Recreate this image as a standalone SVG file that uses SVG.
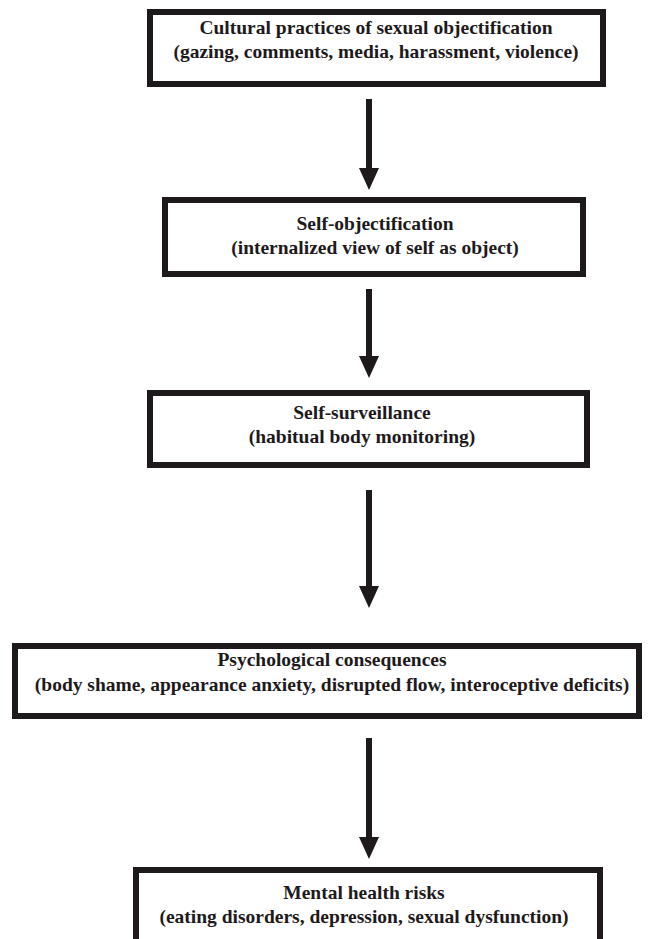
<svg xmlns="http://www.w3.org/2000/svg" width="650" height="939" viewBox="0 0 650 939">
<defs>
<style>
.box{fill:#fff;stroke:#1e1a1b;stroke-width:6}
.t{font-family:"Liberation Serif","Times New Roman",serif;font-weight:bold;font-size:19.5px;fill:#1e1a1b;text-anchor:middle}
.shaft{stroke:#1e1a1b;stroke-width:6}
</style>
<marker id="ah" markerUnits="userSpaceOnUse" markerWidth="22" markerHeight="20" refX="0" refY="10" orient="auto" viewBox="0 0 22 20">
<path d="M0,0 L22,10 L0,20 Z" fill="#1e1a1b"/>
</marker>
</defs>
<rect width="650" height="939" fill="#fff"/>
<g id="connectors">
<line class="shaft" x1="369" y1="99" x2="369" y2="168" marker-end="url(#ah)"/>
<line class="shaft" x1="369" y1="289" x2="369" y2="356" marker-end="url(#ah)"/>
<line class="shaft" x1="369" y1="490" x2="369" y2="586" marker-end="url(#ah)"/>
<line class="shaft" x1="369" y1="738" x2="369" y2="837" marker-end="url(#ah)"/>
</g>
<g id="n1">
<rect class="box" x="150" y="12" width="453" height="72"/>
<text class="t" x="376" y="34">Cultural practices of sexual objectification</text>
<text class="t" x="376" y="58">(gazing, comments, media, harassment, violence)</text>
</g>
<g id="n2">
<rect class="box" x="165" y="200" width="418" height="74"/>
<text class="t" x="375" y="230">Self-objectification</text>
<text class="t" x="375" y="254">(internalized view of self as object)</text>
</g>
<g id="n3">
<rect class="box" x="150" y="393" width="437" height="72"/>
<text class="t" x="362" y="419">Self-surveillance</text>
<text class="t" x="362" y="443">(habitual body monitoring)</text>
</g>
<g id="n4">
<rect class="box" x="15" y="646" width="624" height="70"/>
<text class="t" x="332" y="666">Psychological consequences</text>
<text class="t" x="332" y="691">(body shame, appearance anxiety, disrupted flow, interoceptive deficits)</text>
</g>
<g id="n5">
<rect class="box" x="136" y="870" width="464" height="90"/>
<text class="t" x="364" y="899">Mental health risks</text>
<text class="t" x="364" y="923">(eating disorders, depression, sexual dysfunction)</text>
</g>
</svg>
